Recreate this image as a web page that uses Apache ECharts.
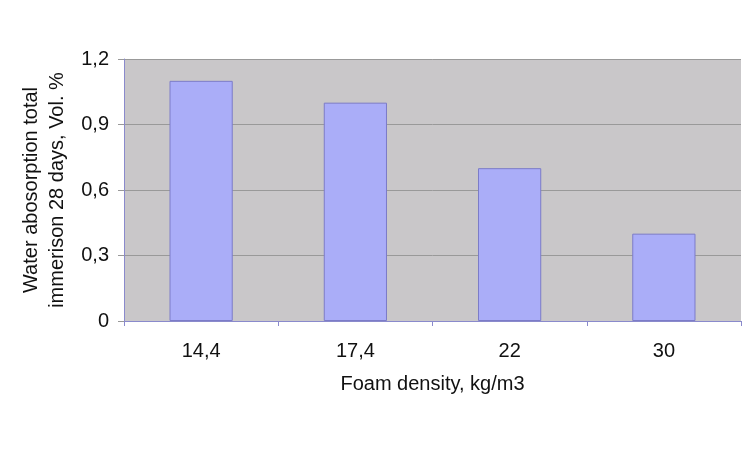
<!DOCTYPE html>
<html><head><meta charset="utf-8">
<script src="https://cdn.jsdelivr.net/npm/echarts@6/dist/echarts.min.js"></script>
<style>html,body{margin:0;padding:0;background:#fff}#c{width:750px;height:449px}</style>
</head><body><div id="c"></div>
<script>
const categories = ['14,4', '17,4', '22', '30'];
const values = [1.1, 1.0, 0.7, 0.4];
const yTicks = [0, 0.3, 0.6, 0.9, 1.2];
const chart = echarts.init(document.getElementById('c'));
const font = 'Liberation Sans, Arial, sans-serif';
chart.setOption({
  animation: false,
  grid: {left: 124, right: 9, top: 59, bottom: 128, show: true, backgroundColor: '#C9C7C9', borderWidth: 0},
  xAxis: {
    type: 'category', data: categories,
    name: 'Foam density, kg/m3', nameLocation: 'middle', nameGap: 53,
    nameTextStyle: {fontFamily: font, fontSize: 20, color: '#111'},
    axisLine: {lineStyle: {color: '#8A8ACC', width: 1}},
    axisTick: {show: true, alignWithLabel: false, length: 5, lineStyle: {color: '#8A8ACC'}},
    axisLabel: {fontFamily: font, fontSize: 20, color: '#111', margin: 20},
    splitLine: {show: false}
  },
  yAxis: {
    type: 'value', min: 0, max: 1.2, interval: 0.3,
    name: 'Water abosorption total\nimmerison 28 days, Vol. %', nameLocation: 'middle', nameGap: 54, nameRotate: 90,
    nameTextStyle: {fontFamily: font, fontSize: 20, color: '#111', lineHeight: 26},
    axisLine: {show: true, lineStyle: {color: '#8A8ACC'}},
    axisTick: {show: true, length: 6, lineStyle: {color: '#999'}},
    axisLabel: {fontFamily: font, fontSize: 20, color: '#111', margin: 15,
      formatter: v => yTicks.includes(+v.toFixed(1)) ? (v === 0 ? '0' : v.toFixed(1).replace('.', ',')) : ''},
    splitLine: {show: true, lineStyle: {color: '#999', width: 1}}
  },
  series: [{
    type: 'bar', data: values, barWidth: '41%',
    itemStyle: {color: '#AAADF8', borderColor: '#7C7CC8', borderWidth: 1}
  }]
});
</script></body></html>
